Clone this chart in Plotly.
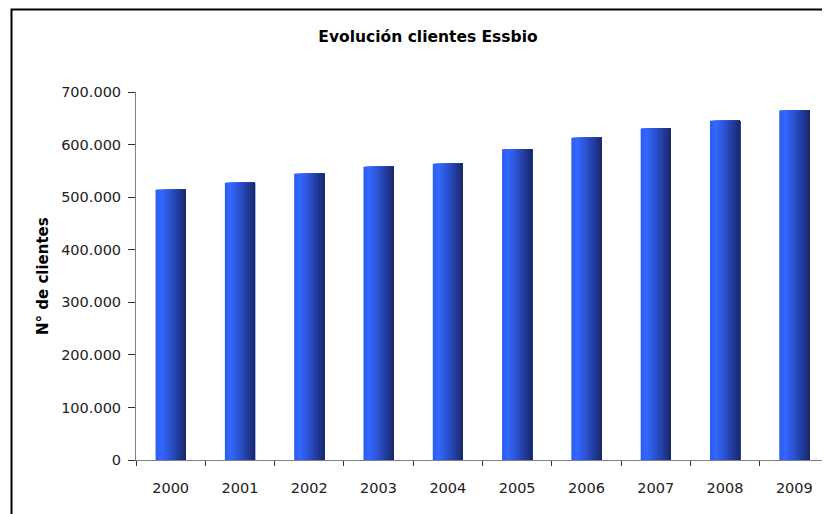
import plotly.graph_objects as go

# ---- data ----
years = ["2000", "2001", "2002", "2003", "2004", "2005", "2006", "2007", "2008", "2009"]
clientes = [514000, 527500, 544500, 558000, 563500, 591000, 613000, 630500, 645500, 665000]
y_ticks = [0, 100000, 200000, 300000, 400000, 500000, 600000, 700000]
y_tick_labels = ["0", "100.000", "200.000", "300.000", "400.000", "500.000", "600.000", "700.000"]

title_text = "Evolución clientes Essbio"
y_title = "N° de clientes"

# ---- styling ----
FONT = "DejaVu Sans"
W = 0.435          # bar width in category units
N = 24             # gradient slices
stops = [(0.0, (44, 92, 240)), (0.18, (52, 104, 255)), (0.45, (45, 85, 215)), (1.0, (25, 40, 108))]


def grad(t):
    for (t0, c0), (t1, c1) in zip(stops[:-1], stops[1:]):
        if t0 <= t <= t1:
            f = (t - t0) / (t1 - t0) if t1 > t0 else 0
            c = [round(a + (b - a) * f) for a, b in zip(c0, c1)]
            return "rgb({},{},{})".format(*c)
    return "rgb({},{},{})".format(*stops[-1][1])


fig = go.Figure()
step = W / N
for i in range(N):
    off = -W / 2 + i * step
    fig.add_trace(go.Bar(
        x=years, y=clientes,
        offset=off, width=W / 2 - off,
        marker=dict(color=grad((i + 0.5) / N), line=dict(width=0)),
        showlegend=False, hoverinfo="skip" if i else "y",
    ))

# page body has an 8px margin: work in figure coords = page coords - 8
OFF = 8
FW, FH = 830 - OFF, 514 - OFF
PL = 136 - OFF
PT = 92 - OFF
PB = FH - (460 - OFF)
PR = FW - (829 - OFF)
plot_w = FW - PL - PR
plot_h = FH - PT - PB

fig.update_layout(
    width=FW, height=FH,
    margin=dict(l=PL, r=PR, t=PT, b=PB, pad=0),
    barmode="overlay",
    paper_bgcolor="white", plot_bgcolor="white",
    font=dict(family=FONT, size=14.5, color="#222"),
    title=dict(text="<b>" + title_text + "</b>", font=dict(family=FONT, size=15.5, color="#000"),
               x=(428 - OFF) / FW, xanchor="center", xref="container",
               y=1 - (37 - OFF) / FH, yanchor="middle", yref="container"),
    xaxis=dict(
        type="category", showgrid=False, showline=True, linecolor="#808080", linewidth=1,
        ticks="outside", tickson="boundaries", ticklen=5, tickcolor="#333", tickwidth=1,
        ticklabelstandoff=15, tickfont=dict(size=14.5, color="#222"),
        range=[-0.5, len(years) - 0.5],
    ),
    yaxis=dict(
        range=[0, 700000], showgrid=False, zeroline=False, showline=True, linecolor="#808080",
        linewidth=1, ticks="outside", ticklen=7, tickcolor="#333", tickwidth=1,
        tickvals=y_ticks, ticktext=y_tick_labels, ticklabelstandoff=4,
        tickfont=dict(size=14.5, color="#222"),
    ),
    annotations=[dict(
        text="<b>" + y_title + "</b>", textangle=-90, showarrow=False,
        xref="paper", yref="paper", x=(43 - 136) / plot_w, y=0.5,
        xanchor="center", yanchor="middle", font=dict(family=FONT, size=15, color="#000"),
    )],
    shapes=[dict(
        type="rect", xref="paper", yref="paper",
        x0=(11.5 - 136) / plot_w, x1=(845 - 136) / plot_w,
        y0=(460 - 530) / plot_h, y1=(460 - 9.5) / plot_h,
        line=dict(color="black", width=2), fillcolor="rgba(0,0,0,0)", layer="above",
    )],
)

fig.write_html("out.html")
